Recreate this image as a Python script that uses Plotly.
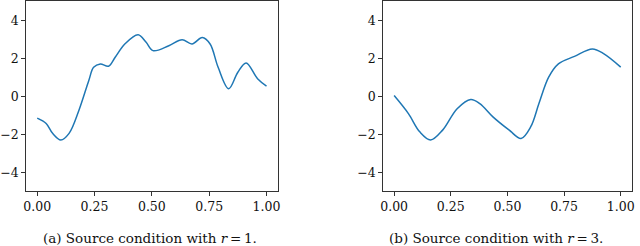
import plotly.graph_objects as go

# Panel (a): r = 1
t_a = [0.0, 0.039, 0.067, 0.103, 0.139, 0.182, 0.225, 0.246, 0.275, 0.311, 0.34, 0.382, 0.44,
       0.475, 0.505, 0.574, 0.632, 0.675, 0.72, 0.754, 0.789, 0.835, 0.875, 0.911, 0.961, 1.0]
v_a = [-1.15, -1.43, -1.95, -2.3, -1.95, -0.73, 0.84, 1.53, 1.71, 1.59, 2.06, 2.76, 3.25,
       2.85, 2.41, 2.67, 2.98, 2.76, 3.1, 2.76, 1.53, 0.4, 1.27, 1.76, 0.93, 0.54]

# Panel (b): r = 3
t_b = [0.0, 0.063, 0.113, 0.161, 0.214, 0.278, 0.338, 0.378, 0.436, 0.508, 0.56, 0.603, 0.639,
       0.682, 0.725, 0.796, 0.875, 0.926, 1.0]
v_b = [0.04, -0.91, -1.87, -2.3, -1.78, -0.65, -0.16, -0.38, -1.08, -1.78, -2.22, -1.6, -0.38,
       1.01, 1.71, 2.11, 2.5, 2.24, 1.54]

x_ticks = [0, 0.25, 0.5, 0.75, 1.0]
x_ticklabels = ["0.00", "0.25", "0.50", "0.75", "1.00"]
y_ticks = [-4, -2, 0, 2, 4]
y_ticklabels = ["\u22124", "\u22122", "0", "2", "4"]
captions = ["(a) Source condition with <i>r</i>\u2009=\u20091.",
            "(b) Source condition with <i>r</i>\u2009=\u20093."]

W, H = 640, 246
FONT = "DejaVu Serif"
LINE = "#1f77b4"

fig = go.Figure()
fig.add_trace(go.Scatter(x=t_a, y=v_a, mode="lines", line=dict(color=LINE, width=1.5, shape="spline", smoothing=1.0),
                         xaxis="x", yaxis="y", showlegend=False))
fig.add_trace(go.Scatter(x=t_b, y=v_b, mode="lines", line=dict(color=LINE, width=1.5, shape="spline", smoothing=1.0),
                         xaxis="x2", yaxis="y2", showlegend=False))

ydom = [(H - 191) / H, (H - 0.5) / H]
axis_common = dict(showgrid=False, zeroline=False, showline=True, mirror=True, linecolor="#333", linewidth=1,
                   ticks="outside", ticklen=3.5, tickwidth=1, tickcolor="#333",
                   tickfont=dict(family=FONT, size=12.5, color="#111"))

fig.update_layout(
    width=W, height=H, margin=dict(l=0, r=0, t=0, b=0),
    paper_bgcolor="white", plot_bgcolor="white",
    xaxis=dict(domain=[22 / W, 277 / W], range=[-0.05, 1.05], tickvals=x_ticks, ticktext=x_ticklabels, anchor="y", **axis_common),
    yaxis=dict(domain=ydom, range=[-5, 5], tickvals=y_ticks, ticktext=y_ticklabels, anchor="x", **axis_common),
    xaxis2=dict(domain=[383 / W, 635 / W], range=[-0.05, 1.05], tickvals=x_ticks, ticktext=x_ticklabels, anchor="y2", **axis_common),
    yaxis2=dict(domain=ydom, range=[-5, 5], tickvals=y_ticks, ticktext=y_ticklabels, anchor="x2", **axis_common),
)

for cx, txt in zip([148 / W, 497 / W], captions):
    fig.add_annotation(x=cx, y=(H - 238) / H, xref="paper", yref="paper", text=txt, showarrow=False,
                       font=dict(family=FONT, size=13.5, color="#111"), xanchor="center", yanchor="middle")

fig.write_html("out.html", config={"displayModeBar": False},
               post_script="document.body.style.margin='0';document.body.style.overflow='hidden';")
